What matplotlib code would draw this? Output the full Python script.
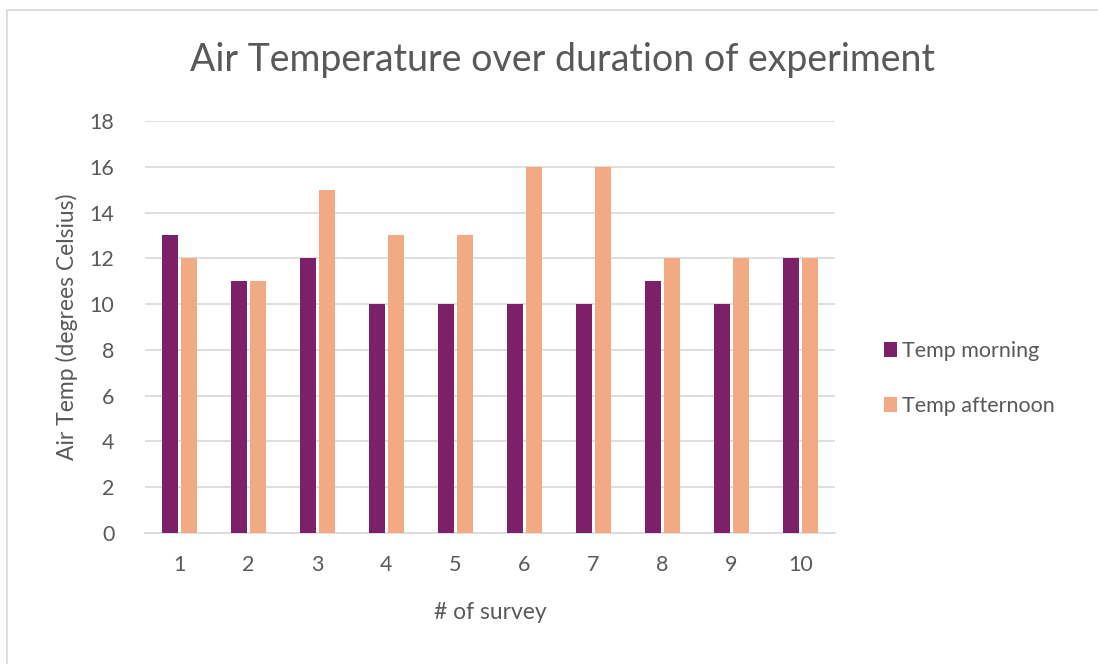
import numpy as np
import matplotlib.pyplot as plt
from matplotlib.patches import Rectangle

surveys = ["1", "2", "3", "4", "5", "6", "7", "8", "9", "10"]
temp_morning = [13, 11, 12, 10, 10, 10, 10, 11, 10, 12]
temp_afternoon = [12, 11, 15, 13, 13, 16, 16, 12, 12, 12]

purple = "#7B2069"
orange = "#F2AA84"
text_col = "#595959"

plt.rcParams['font.family'] = ['Lato', 'DejaVu Sans']

fig = plt.figure(figsize=(10.98, 6.64), dpi=100)
# outer chart border (left and top edges visible)
fig.patches.append(Rectangle((7 / 1098, -0.05), 1.2, 1 - 10 / 664 + 0.05,
                             transform=fig.transFigure, fill=False,
                             edgecolor="#D9D9D9", linewidth=1.2))

ax = fig.add_axes([145 / 1098, 1 - 533 / 664, 690 / 1098, 412 / 664])

x = np.arange(len(surveys))
w = 0.235
ax.bar(x - 0.135, temp_morning, width=w, color=purple, label="Temp morning", zorder=3)
ax.bar(x + 0.135, temp_afternoon, width=w, color=orange, label="Temp afternoon", zorder=3)

ax.set_xlim(-0.5, len(surveys) - 0.5)
ax.set_ylim(0, 18)
ax.set_yticks(range(0, 19, 2))
ax.set_xticks(x)
ax.set_xticklabels(surveys)
ax.yaxis.grid(True, color="#D9D9D9", linewidth=1.2, zorder=0)
ax.set_axisbelow(True)
for s in ["top", "right", "left"]:
    ax.spines[s].set_visible(False)
ax.spines["bottom"].set_color("#D9D9D9")
ax.spines["bottom"].set_linewidth(1.2)
ax.tick_params(axis="both", length=0, labelsize=15.5, colors=text_col)
ax.tick_params(axis="x", pad=16)
ax.tick_params(axis="y", pad=22)

ax.set_xlabel("# of survey", fontsize=16.5, color=text_col, labelpad=19)
ax.set_ylabel("Air Temp (degrees Celsius)", fontsize=16.5, color=text_col, labelpad=8)

fig.text(562 / 1098, 1 - 60 / 664, "Air Temperature over duration of experiment",
         ha="center", va="center", fontsize=27, color=text_col)

leg = ax.legend(loc="center left", bbox_to_anchor=(1.043, 0.375), frameon=False,
                fontsize=15.5, labelcolor=text_col, handlelength=0.6, handleheight=0.7,
                handletextpad=0.25, labelspacing=1.62)

fig.savefig("out.png", dpi=100)
